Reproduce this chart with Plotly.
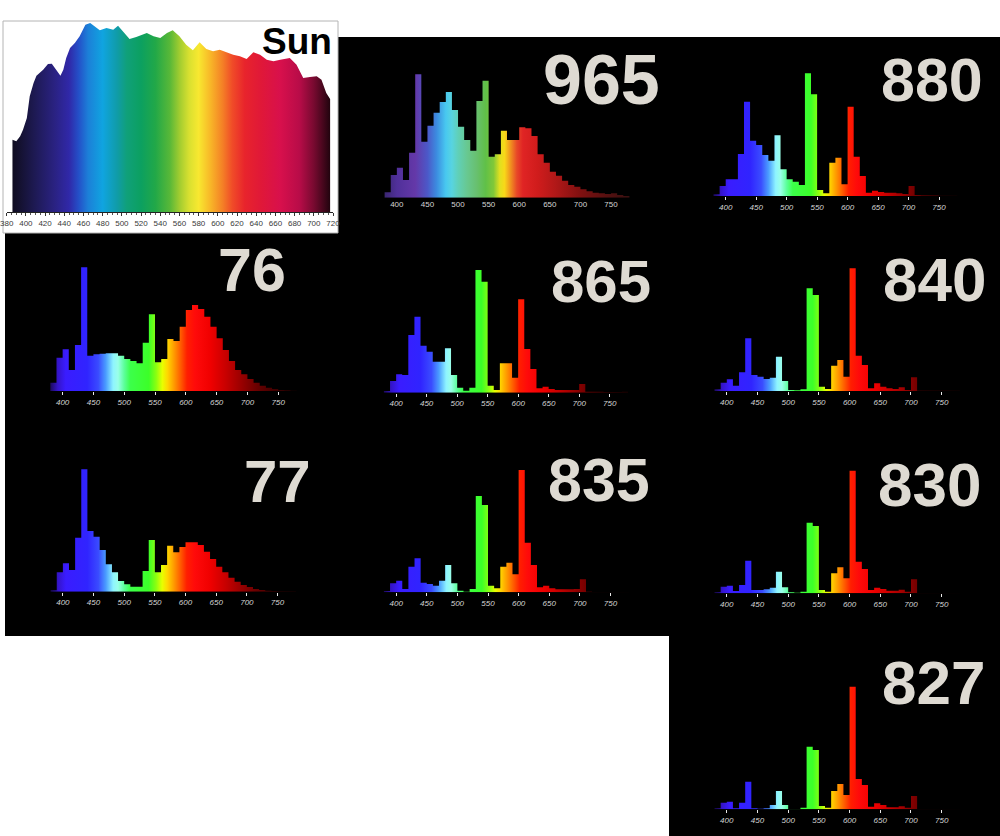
import plotly.graph_objects as go

W, H = 1000, 836

# 10 nm bins, 380-780 nm (bin edges)
BIN_EDGES = list(range(380, 790, 10))
TICKS = [400, 450, 500, 550, 600, 650, 700, 750]
SUN_TICKS = list(range(380, 740, 20))

# relative spectral power per 10 nm bin
LAMP_965 = [16, 68, 90, 53, 135, 370, 168, 216, 255, 287, 317, 263, 213, 173, 141, 290, 351, 123, 130, 201,
            173, 173, 211, 208, 185, 130, 105, 78, 66, 51, 38, 33, 25, 19, 15, 13, 11, 13, 8, 5]
LAMP_880 = [5, 30, 50, 50, 126, 283, 166, 153, 123, 106, 182, 80, 50, 43, 33, 368, 305, 18, 8, 100,
            115, 35, 268, 118, 60, 10, 16, 12, 10, 10, 8, 6, 30, 3, 2, 2, 2, 1, 1, 1]
LAMP_76 = [25, 100, 125, 63, 138, 371, 106, 110, 112, 113, 113, 106, 96, 90, 83, 145, 230, 86, 96, 156,
           150, 193, 243, 258, 246, 223, 193, 158, 123, 90, 63, 50, 36, 25, 16, 10, 6, 3, 2, 1]
LAMP_865 = [5, 35, 55, 53, 173, 228, 141, 123, 93, 93, 133, 53, 15, 6, 15, 368, 333, 21, 8, 88,
            88, 45, 280, 131, 71, 13, 18, 11, 8, 8, 8, 8, 26, 3, 3, 3, 2, 2, 2, 3]
LAMP_840 = [5, 25, 35, 16, 56, 158, 48, 43, 36, 40, 103, 30, 3, 2, 5, 308, 288, 13, 6, 76,
            93, 43, 368, 106, 78, 8, 23, 13, 8, 6, 11, 3, 41, 1, 1, 1, 1, 1, 1, 1]
LAMP_77 = [4, 58, 85, 65, 162, 367, 182, 165, 125, 82, 58, 32, 22, 15, 15, 62, 155, 58, 80, 138,
           118, 134, 148, 148, 140, 120, 98, 75, 58, 42, 30, 20, 14, 8, 5, 3, 2, 1, 1, 1]
LAMP_835 = [4, 27, 35, 10, 77, 102, 29, 25, 20, 35, 82, 27, 5, 2, 10, 289, 262, 20, 12, 77,
            89, 54, 367, 149, 82, 15, 20, 12, 9, 9, 9, 10, 39, 2, 1, 1, 1, 1, 1, 1]
LAMP_830 = [3, 20, 23, 7, 25, 98, 10, 10, 12, 17, 65, 18, 3, 2, 5, 212, 202, 10, 5, 60,
            78, 45, 368, 95, 73, 10, 17, 13, 8, 8, 11, 5, 42, 1, 1, 1, 1, 1, 1, 1]
LAMP_827 = [3, 20, 23, 3, 20, 83, 3, 2, 3, 13, 55, 13, 1, 1, 5, 188, 178, 10, 5, 55,
            76, 43, 368, 91, 73, 8, 18, 13, 6, 6, 9, 5, 40, 1, 1, 1, 1, 1, 1, 1]

# daylight curve
SUN_NM = [386, 390, 394, 397, 401, 404, 408, 411, 418, 423, 427, 432, 436, 439, 442, 446, 451, 456, 462, 467,
          472, 477, 484, 491, 496, 501, 508, 515, 526, 533, 540, 547, 553, 560, 567, 574, 581, 588, 595, 602,
          609, 616, 623, 630, 637, 644, 651, 658, 665, 675, 682, 689, 696, 703, 708, 713, 717]
SUN_LEVEL = [217, 212, 227, 247, 282, 347, 387, 409, 427, 444, 445, 427, 409, 427, 462, 492, 507, 527, 562, 567,
             557, 545, 552, 547, 559, 542, 519, 525, 537, 527, 522, 537, 545, 527, 502, 485, 509, 489, 482, 487,
             479, 472, 467, 459, 479, 472, 457, 452, 457, 462, 442, 402, 405, 407, 397, 357, 339]

VIVID = [(380, "#1c0a5a"), (392, "#3414c8"), (405, "#3a1cff"), (440, "#3024ff"), (458, "#3a4cff"),
         (470, "#4a9cff"), (482, "#8ef4ff"), (490, "#9affe8"), (500, "#5cff9a"), (510, "#3cff4a"),
         (540, "#3cff28"), (552, "#8cff10"), (562, "#e8ff00"), (570, "#ffd800"), (580, "#ffa000"),
         (592, "#ff5a00"), (602, "#ff1e00"), (615, "#ff0a0a"), (640, "#f00000"), (665, "#c80000"),
         (690, "#9a0000"), (715, "#6a0000"), (745, "#400000"), (780, "#200000")]
MUTED = [(380, "#3a2670"), (400, "#50309a"), (430, "#6438a8"), (450, "#4c58c8"), (465, "#3c8ce0"),
         (480, "#48c8f0"), (490, "#58d4e0"), (500, "#60d0b8"), (515, "#68c890"), (530, "#68c070"),
         (545, "#60c048"), (558, "#80c838"), (568, "#e0e020"), (576, "#f8d818"), (586, "#f09020"),
         (596, "#e84828"), (606, "#e02424"), (630, "#d01c1c"), (660, "#b01818"), (700, "#801010"),
         (740, "#581010"), (780, "#381010")]
SUNLIGHT = [(380, "#0c0814"), (395, "#151233"), (410, "#1e1a55"), (430, "#2a2282"), (445, "#3028a8"),
            (455, "#2450c8"), (465, "#1c80d8"), (480, "#10a4e0"), (495, "#109ca8"), (505, "#10a07a"),
            (520, "#0ca060"), (535, "#22a848"), (550, "#58b838"), (560, "#a0cc30"), (570, "#d8e030"),
            (580, "#f8e830"), (592, "#f8b828"), (605, "#f48026"), (615, "#f04c28"), (628, "#e8242c"),
            (645, "#e01838"), (665, "#d8104c"), (685, "#b80c48"), (700, "#780a30"), (712, "#3a0618"),
            (720, "#120208")]


def scale_from(anchors, lo, hi):
    return [[(nm - lo) / (hi - lo), c] for nm, c in anchors]


def px_x(px):
    return px / W


def px_y(py):
    return 1 - py / H


# name, values, left px of 380 nm, px per nm, baseline px, palette, italic labels, label right px, label centre px, size
PANELS = [
    ("965", LAMP_965, 384.6, 0.612, 197.7, MUTED, False, 662, 80, 70),
    ("880", LAMP_880, 713.5, 0.6095, 196.0, VIVID, True, 985, 80, 61),
    ("76", LAMP_76, 50.3, 0.616, 391.0, VIVID, True, 288, 270, 61),
    ("865", LAMP_865, 383.9, 0.6103, 392.7, VIVID, True, 653, 281.5, 60),
    ("840", LAMP_840, 714.5, 0.614, 391.0, VIVID, True, 988, 279.5, 62),
    ("77", LAMP_77, 50.6, 0.6133, 591.7, VIVID, True, 313, 481.5, 60),
    ("835", LAMP_835, 383.9, 0.6124, 592.3, VIVID, True, 652, 480, 61),
    ("830", LAMP_830, 714.5, 0.614, 593.3, VIVID, True, 983, 484.5, 62),
    ("827", LAMP_827, 714.5, 0.614, 809.3, VIVID, True, 987, 682.5, 62),
]

fig = go.Figure()
layout = {}
annotations = []

# black backdrops and the white sun card
shapes = [
    dict(type="rect", xref="paper", yref="paper", x0=px_x(338), x1=1, y0=px_y(636), y1=px_y(37),
         fillcolor="black", line_width=0, layer="below"),
    dict(type="rect", xref="paper", yref="paper", x0=px_x(5), x1=px_x(340), y0=px_y(636), y1=px_y(233),
         fillcolor="black", line_width=0, layer="below"),
    dict(type="rect", xref="paper", yref="paper", x0=px_x(669), x1=1, y0=0, y1=px_y(636),
         fillcolor="black", line_width=0, layer="below"),
    dict(type="rect", xref="paper", yref="paper", x0=px_x(3), x1=px_x(338), y0=px_y(233), y1=px_y(21),
         fillcolor="white", line=dict(color="#b4b4b4", width=1), layer="below"),
]

RANGE_LO, RANGE_HI = 372, 792

for k, (name, values, x380, scale, base, palette, italic, lab_x, lab_y, lab_size) in enumerate(PANELS, start=1):
    fig.add_trace(go.Scatter(
        x=BIN_EDGES, y=values + values[-1:],
        mode="lines", line=dict(width=0, shape="hv"),
        fill="tozeroy",
        fillgradient=dict(type="horizontal", colorscale=scale_from(palette, 380, 780), start=380, stop=780),
        xaxis=f"x{k}", yaxis=f"y{k}", hoverinfo="skip",
    ))
    left = x380 - (380 - RANGE_LO) * scale
    right = x380 + (RANGE_HI - 380) * scale
    layout[f"xaxis{k}"] = dict(
        domain=[px_x(left), px_x(right)], range=[RANGE_LO, RANGE_HI], anchor=f"y{k}",
        tickvals=TICKS, ticktext=[str(t) for t in TICKS],
        ticks="outside" if italic else "", ticklen=3, tickwidth=1, tickcolor="#e8e8e8",
        tickfont=dict(family="Liberation Sans", size=8, color="#d4d4d4",
                      style="italic" if italic else "normal"),
        showgrid=False, zeroline=False, showline=False, fixedrange=True, automargin=False,
    )
    layout[f"yaxis{k}"] = dict(
        domain=[px_y(base), px_y(base - 140)], range=[0, 420], anchor=f"x{k}",
        visible=False, fixedrange=True, automargin=False,
    )
    annotations.append(dict(
        text=name, xref="paper", yref="paper", x=px_x(lab_x), y=px_y(lab_y),
        xanchor="right", yanchor="middle", showarrow=False,
        font=dict(family="Liberation Sans", size=lab_size, color="#dedad2", weight="bold"),
    ))

# sun panel
k = len(PANELS) + 1
fig.add_trace(go.Scatter(
    x=SUN_NM, y=SUN_LEVEL, mode="lines", line=dict(width=0),
    fill="tozeroy",
    fillgradient=dict(type="horizontal", colorscale=scale_from(SUNLIGHT, 380, 720), start=380, stop=720),
    xaxis=f"x{k}", yaxis=f"y{k}", hoverinfo="skip",
))
layout[f"xaxis{k}"] = dict(
    domain=[px_x(6.7), px_x(333)], range=[380, 720], anchor=f"y{k}",
    tickvals=SUN_TICKS, ticktext=[str(t) for t in SUN_TICKS],
    ticks="outside", ticklen=3, tickcolor="#333", showline=True, linecolor="#222", linewidth=1,
    minor=dict(ticks="outside", ticklen=2, dtick=5, tickcolor="#555"),
    tickfont=dict(family="Liberation Sans", size=8, color="#3a3a3a"),
    showgrid=False, zeroline=False, fixedrange=True, automargin=False,
)
layout[f"yaxis{k}"] = dict(
    domain=[px_y(212), px_y(12)], range=[0, 600], anchor=f"x{k}",
    visible=False, fixedrange=True, automargin=False,
)
annotations.append(dict(
    text="Sun", xref="paper", yref="paper", x=px_x(334), y=px_y(41.5),
    xanchor="right", yanchor="middle", showarrow=False,
    font=dict(family="Liberation Sans", size=37, color="black", weight="bold"),
))

fig.update_layout(
    width=W, height=H, margin=dict(l=0, r=0, t=0, b=0, autoexpand=False),
    paper_bgcolor="white", plot_bgcolor="rgba(0,0,0,0)",
    showlegend=False, shapes=shapes, annotations=annotations,
    **layout,
)

# page chrome off so the 1000x836 figure fills the window
fig.write_html(
    "out.html",
    config={"displayModeBar": False},
    post_script="document.body.style.margin='0';document.body.style.overflow='hidden';",
)
